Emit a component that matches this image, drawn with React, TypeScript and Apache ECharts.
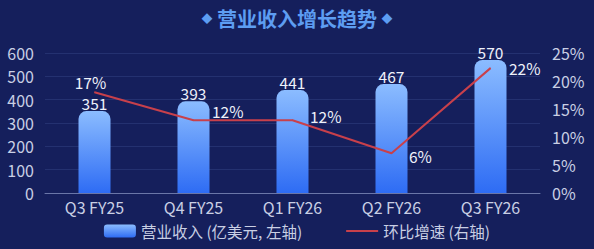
import React, { useEffect, useRef } from "react";
import * as echarts from "echarts";

const categories = ["Q3 FY25", "Q4 FY25", "Q1 FY26", "Q2 FY26", "Q3 FY26"];
const revenue = [351, 393, 441, 467, 570];
const growthLine = [18, 13, 13, 7.1, 22.3];
const growthLabels = ["17%", "12%", "12%", "6%", "22%"];
const leftTicks = [0, 600, 100];
const rightTicks = [0, 25, 5];

const FONT = "'Noto Sans CJK SC', 'Noto Sans', sans-serif";

export default function App() {
  const ref = useRef<HTMLDivElement>(null);
  useEffect(() => {
    if (!ref.current) return;
    const chart = echarts.init(ref.current, undefined, { renderer: "svg" });
    const labelPos: any[] = [
      { position: "top", distance: 0, offset: [-4, -2] },
      { position: "right", distance: 18, offset: [0, -9] },
      { position: "right", distance: 17, offset: [0, -4] },
      { position: "right", distance: 17, offset: [0, 3] },
      { position: "right", distance: 18, offset: [0, 0] },
    ];
    chart.setOption({
      animation: false,
      backgroundColor: "#151f5c",
      textStyle: { fontFamily: FONT },
      title: {
        text: "{d|◆} 营业收入增长趋势 {d|◆}",
        left: "center",
        top: 3,
        textStyle: {
          fontFamily: FONT,
          fontSize: 20,
          fontWeight: "bold",
          color: "#5d9df2",
          rich: {
            d: { fontSize: 11, color: "#5d9df2", fontFamily: FONT },
          },
        },
      },
      grid: { left: 45, right: 54, top: 53, bottom: 56, containLabel: false },
      legend: {
        bottom: 5,
        left: "center",
        itemWidth: 32,
        itemHeight: 13,
        itemGap: 44,
        textStyle: { color: "#c9cfe4", fontSize: 15.5, lineHeight: 16, fontFamily: FONT },
        data: [
          { name: "营业收入 (亿美元, 左轴)" },
          { name: "环比增速 (右轴)", icon: "path://M0,0 L32,0 L32,2 L0,2 Z" },
        ],
      },
      xAxis: {
        type: "category",
        data: categories,
        axisTick: { show: false },
        axisLine: { lineStyle: { color: "#6a76a8", width: 1 } },
        axisLabel: { color: "#c9cfe4", fontSize: 16, lineHeight: 16, margin: 6, fontFamily: FONT },
      },
      yAxis: [
        {
          type: "value",
          min: leftTicks[0],
          max: leftTicks[1],
          interval: leftTicks[2],
          axisLabel: { color: "#c9cfe4", fontSize: 16, margin: 11, fontFamily: FONT },
          axisLine: { show: false },
          axisTick: { show: false },
          splitLine: { lineStyle: { color: "#243170", width: 1 } },
        },
        {
          type: "value",
          min: rightTicks[0],
          max: rightTicks[1],
          interval: rightTicks[2],
          position: "right",
          axisLabel: { color: "#c9cfe4", fontSize: 16, margin: 12, formatter: "{value}%", fontFamily: FONT },
          axisLine: { show: false },
          axisTick: { show: false },
          splitLine: { show: false },
        },
      ],
      series: [
        {
          name: "营业收入 (亿美元, 左轴)",
          type: "bar",
          data: revenue,
          barWidth: 32,
          itemStyle: {
            borderRadius: [8, 8, 0, 0],
            color: new echarts.graphic.LinearGradient(0, 0, 0, 1, [
              { offset: 0, color: "#8bbcff" },
              { offset: 1, color: "#2e6cf4" },
            ]),
          },
          label: {
            show: true,
            position: "top",
            distance: 0,
            color: "#eef1fa",
            fontSize: 15.5,
            lineHeight: 16,
            fontFamily: FONT,
          },
        },
        {
          name: "环比增速 (右轴)",
          type: "line",
          yAxisIndex: 1,
          data: growthLine.map((v, i) => ({
            value: v,
            label: { ...labelPos[i], formatter: growthLabels[i] },
          })),
          symbol: "circle",
          symbolSize: 1,
          lineStyle: { color: "#c8404b", width: 2 },
          itemStyle: { color: "#c8404b" },
          label: {
            show: true,
            color: "#eef1fa",
            fontSize: 15.5,
            lineHeight: 16,
            fontFamily: FONT,
          },
        },
      ],
    });
    return () => chart.dispose();
  }, []);
  return (
    <div
      ref={ref}
      style={{ position: "fixed", left: 0, top: 0, width: 594, height: 249 }}
    />
  );
}
